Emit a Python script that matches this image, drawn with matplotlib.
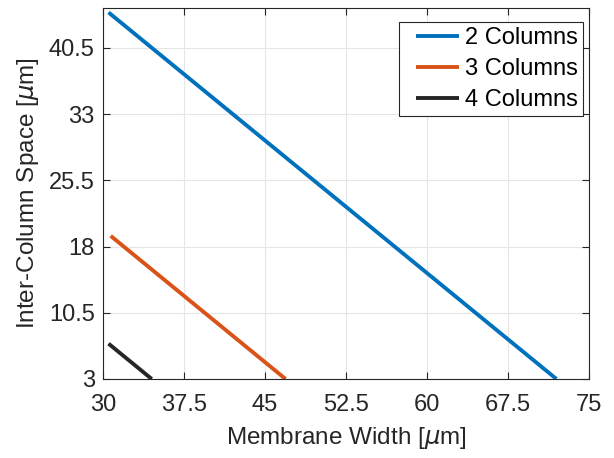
import matplotlib.pyplot as plt
from matplotlib.legend_handler import HandlerLine2D

plt.rcParams['font.family'] = ['Liberation Sans', 'DejaVu Sans']
plt.rcParams['mathtext.fontset'] = 'dejavusans'

# membrane width [um] vs inter-column space [um], line endpoints
width_2col = [30.5, 72.0]
space_2col = [44.5, 3.0]
width_3col = [30.7, 46.9]
space_3col = [19.2, 3.0]
width_4col = [30.5, 34.5]
space_4col = [7.0, 3.0]

labels = ['2 Columns', '3 Columns', '4 Columns']
colors = ['#0072BD', '#D95319', '#262626']

x_ticks = [30, 37.5, 45, 52.5, 60, 67.5, 75]
y_ticks = [3, 10.5, 18, 25.5, 33, 40.5]

DARK = '#262626'

fig = plt.figure(figsize=(6.14, 4.58), dpi=100)
ax = fig.add_axes([0.168, 0.1725, 0.791, 0.81])

lines = []
for xs, ys, lab, c in zip([width_2col, width_3col, width_4col],
                          [space_2col, space_3col, space_4col],
                          labels, colors):
    ln, = ax.plot(xs, ys, color=c, linewidth=2.8, label=lab, solid_capstyle='butt')
    lines.append(ln)

ax.set_xlim(30, 75)
ax.set_ylim(3, 45)
ax.set_xticks(x_ticks)
ax.set_xticklabels([f'{t:g}' for t in x_ticks])
ax.set_yticks(y_ticks)
ax.set_yticklabels([f'{t:g}' for t in y_ticks])

ax.grid(True, color='#e6e6e6', linewidth=0.8)
ax.set_axisbelow(True)
ax.tick_params(direction='in', length=5, width=0.8, colors=DARK,
               labelsize=17, top=True, right=True)
ax.tick_params(axis='x', pad=10.5)
ax.tick_params(axis='y', pad=6)
for s in ax.spines.values():
    s.set_color(DARK)
    s.set_linewidth(0.8)

ax.set_xlabel(r'Membrane Width [$\mu$m]', fontsize=17.5, color=DARK, labelpad=6.5)
ax.set_ylabel(r'Inter-Column Space [$\mu$m]', fontsize=17.5, color=DARK, labelpad=6)

handler = {ln: HandlerLine2D(xpad=0.5) for ln in lines}
leg = ax.legend(loc='upper right', bbox_to_anchor=(0.9876, 0.962),
                fontsize=17, handlelength=2.35, borderaxespad=0,
                fancybox=False, labelspacing=0.38, handletextpad=0.25,
                borderpad=0.2, handler_map=handler)
leg.get_frame().set_edgecolor(DARK)
leg.get_frame().set_linewidth(0.8)
leg.get_frame().set_alpha(1)

fig.savefig('out.png', dpi=100)
